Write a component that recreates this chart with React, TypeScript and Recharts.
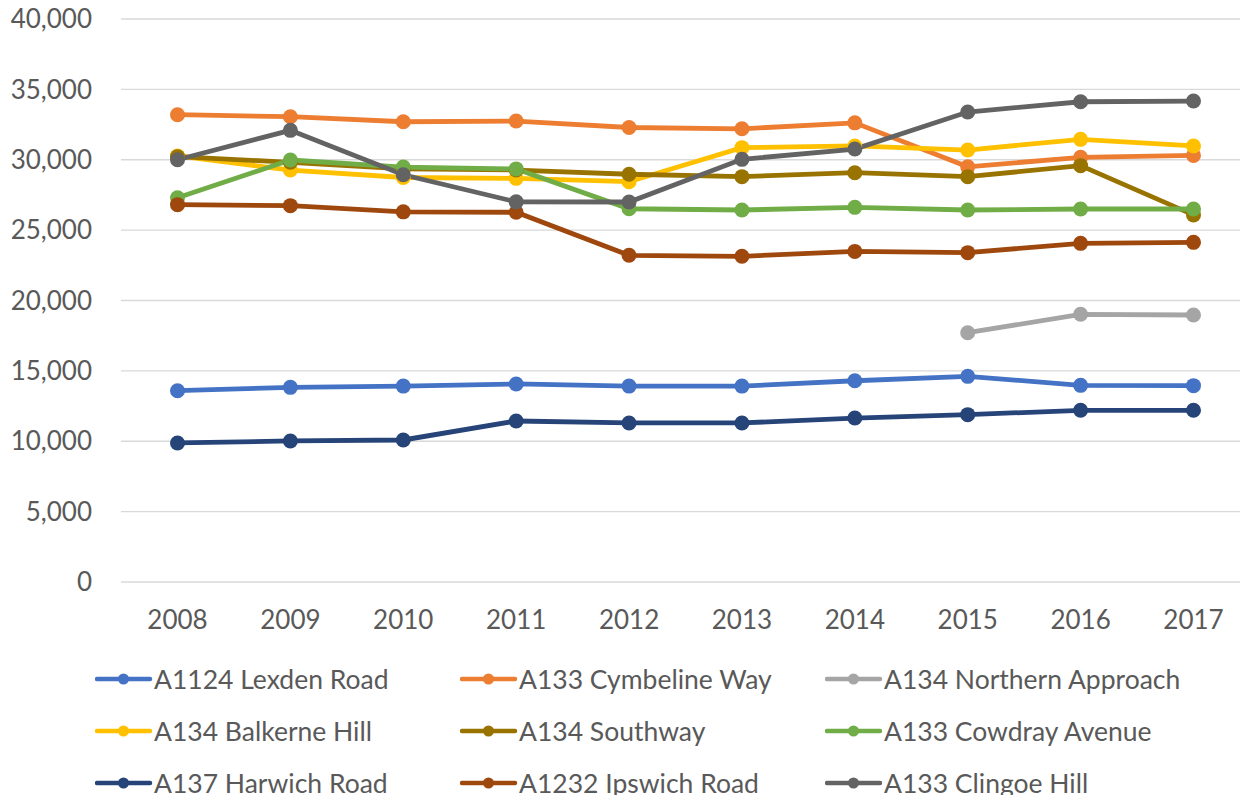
import { LineChart, Line, XAxis, YAxis, CartesianGrid } from "recharts";

const years = ["2008", "2009", "2010", "2011", "2012", "2013", "2014", "2015", "2016", "2017"];
const yTicks = [0, 5000, 10000, 15000, 20000, 25000, 30000, 35000, 40000];

const lexdenRoad = [13590, 13830, 13920, 14070, 13920, 13920, 14300, 14610, 13970, 13950];
const cymbelineWay = [33200, 33060, 32700, 32750, 32290, 32200, 32620, 29500, 30170, 30310];
const northernApproach = [null, null, null, null, null, null, null, 17710, 19020, 18970];
const balkerneHill = [30270, 29270, 28740, 28680, 28440, 30860, 30980, 30690, 31450, 30980];
const southway = [30220, 29820, 29350, 29270, 28970, 28800, 29080, 28800, 29580, 26080];
const cowdrayAvenue = [27300, 29980, 29480, 29350, 26520, 26430, 26620, 26430, 26500, 26500];
const harwichRoad = [9880, 10020, 10090, 11440, 11300, 11300, 11650, 11890, 12200, 12200];
const ipswichRoad = [26810, 26740, 26300, 26270, 23210, 23140, 23490, 23400, 24060, 24130];
const clingoeHill = [30000, 32090, 28930, 27010, 27000, 30030, 30760, 33390, 34120, 34170];

const series = [
  { key: "lexden", name: "A1124 Lexden Road", color: "#4472C4", values: lexdenRoad },
  { key: "cymbeline", name: "A133 Cymbeline Way", color: "#ED7D31", values: cymbelineWay },
  { key: "northern", name: "A134 Northern Approach", color: "#A5A5A5", values: northernApproach },
  { key: "balkerne", name: "A134 Balkerne Hill", color: "#FFC000", values: balkerneHill },
  { key: "southway", name: "A134 Southway", color: "#997300", values: southway },
  { key: "cowdray", name: "A133 Cowdray Avenue", color: "#70AD47", values: cowdrayAvenue },
  { key: "harwich", name: "A137 Harwich Road", color: "#264478", values: harwichRoad },
  { key: "ipswich", name: "A1232 Ipswich Road", color: "#9E480E", values: ipswichRoad },
  { key: "clingoe", name: "A133 Clingoe Hill", color: "#636363", values: clingoeHill },
];

const data = years.map((year, i) => {
  const row: Record<string, string | number | null> = { year };
  series.forEach((s) => {
    row[s.key] = s.values[i];
  });
  return row;
});

const FONT = "Lato, 'Open Sans', sans-serif";
const TEXT = "#595959";

function LegendItem({ name, color }: { name: string; color: string }) {
  return (
    <div style={{ display: "flex", alignItems: "center", height: 52 }}>
      <svg width={58} height={16} style={{ flex: "none" }}>
        <line x1={2} y1={8} x2={55} y2={8} stroke={color} strokeWidth={4.5} strokeLinecap="round" />
        <circle cx={28.5} cy={8} r={5.5} fill={color} />
      </svg>
      <span style={{ fontSize: 26.5, color: TEXT, marginLeft: 1, whiteSpace: "nowrap" }}>{name}</span>
    </div>
  );
}

export default function App() {
  return (
    <div
      style={{
        position: "absolute",
        left: 0,
        top: 0,
        width: 1240,
        height: 795,
        overflow: "hidden",
        background: "#fff",
        fontFamily: FONT,
      }}
    >
      <LineChart width={1260} height={650} data={data} margin={{ top: 19, right: 10, bottom: 0, left: 0 }}>
        <CartesianGrid vertical={false} stroke="#D9D9D9" strokeWidth={1.3} />
        <XAxis
          dataKey="year"
          height={68}
          padding={{ left: 56.5, right: 56.5 }}
          axisLine={false}
          tickLine={false}
          tickSize={0}
          tickMargin={29}
          tick={{ fill: TEXT, fontSize: 26, fontFamily: FONT }}
        />
        <YAxis
          width={121}
          domain={[0, 40000]}
          ticks={yTicks}
          axisLine={false}
          tickLine={false}
          tickSize={0}
          tickMargin={29}
          tickFormatter={(v: number) => v.toLocaleString("en-US")}
          tick={{ fill: TEXT, fontSize: 26, fontFamily: FONT }}
        />
        {series.map((s) => (
          <Line
            key={s.key}
            dataKey={s.key}
            name={s.name}
            stroke={s.color}
            strokeWidth={4.8}
            dot={{ r: 7.5, fill: s.color, stroke: s.color, strokeWidth: 0 }}
            activeDot={false}
            isAnimationActive={false}
            connectNulls={false}
          />
        ))}
      </LineChart>
      <div
        style={{
          position: "absolute",
          left: 95,
          top: 653,
          display: "grid",
          gridTemplateColumns: "365px 365px 365px",
        }}
      >
        {series.map((s) => (
          <LegendItem key={s.key} name={s.name} color={s.color} />
        ))}
      </div>
    </div>
  );
}
